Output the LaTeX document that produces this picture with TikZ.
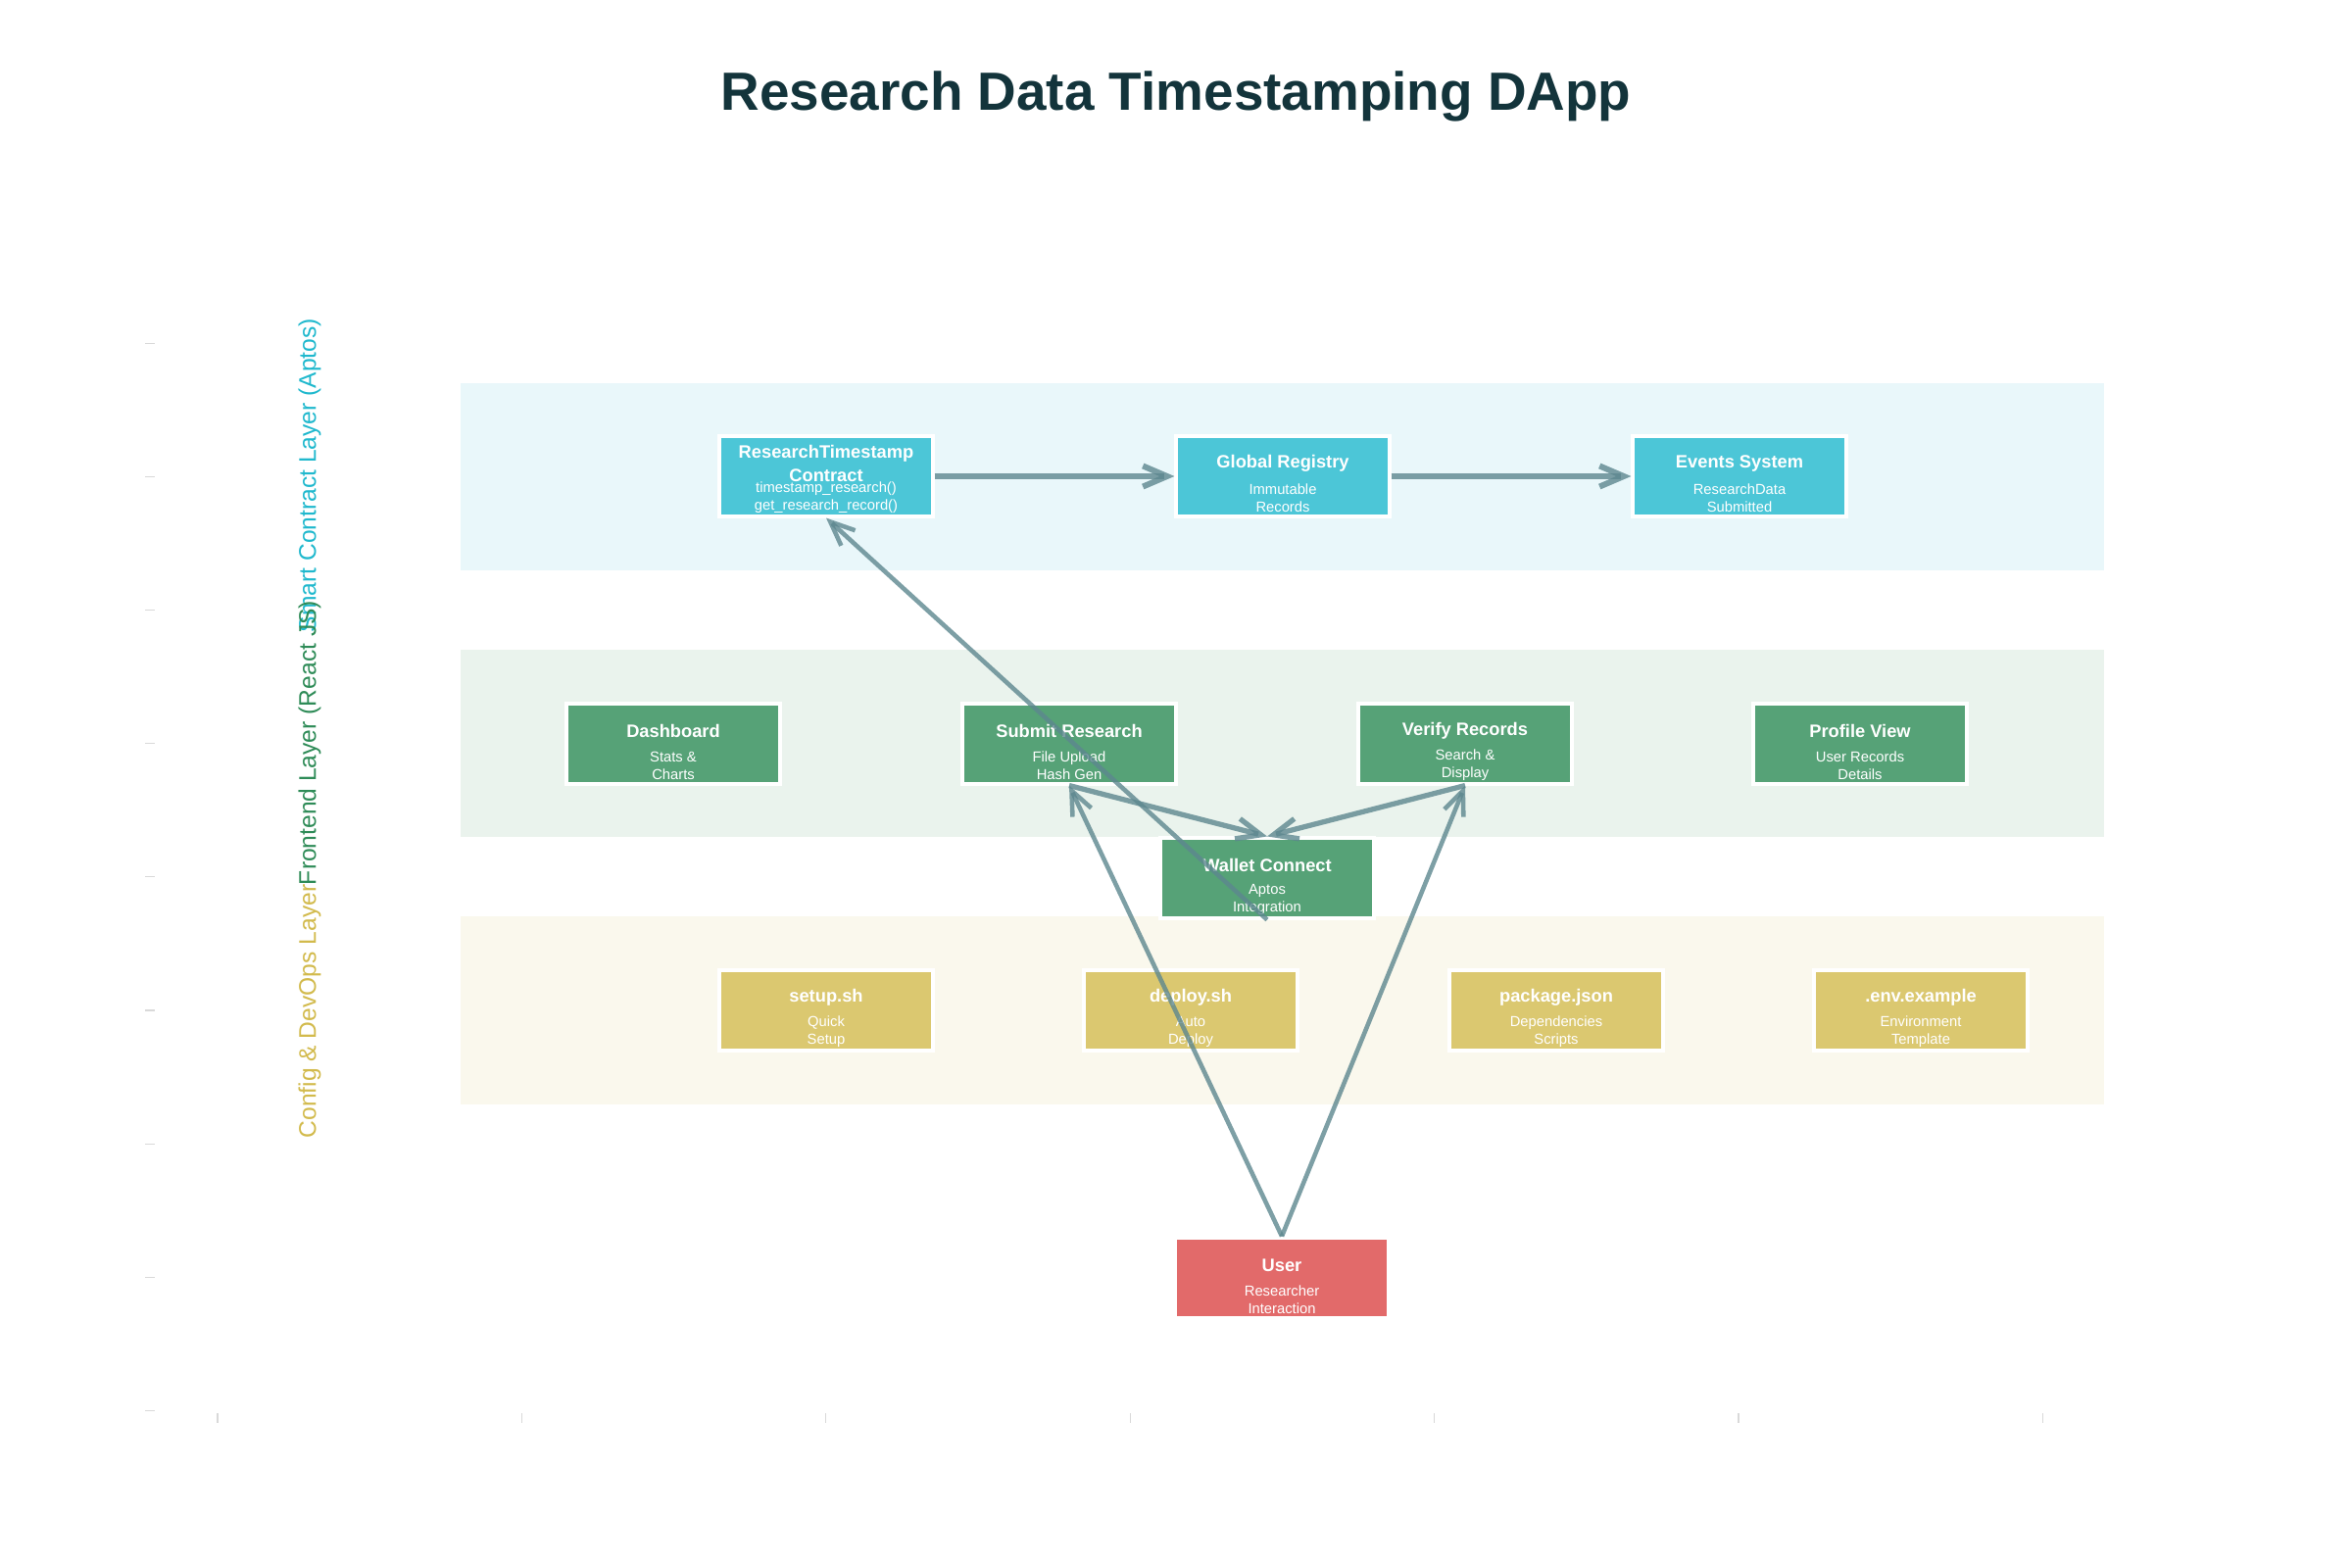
\documentclass[tikz,border=0pt]{standalone}
\usepackage{fontspec}
\setmainfont{Liberation Sans}
\usepackage{xcolor}
\usetikzlibrary{arrows.meta}

\definecolor{titlec}{RGB}{19,52,59}
\definecolor{scc}{RGB}{31,184,205}
\definecolor{fec}{RGB}{46,139,87}
\definecolor{cfc}{RGB}{210,186,76}
\definecolor{scfill}{RGB}{76,198,215}
\definecolor{fefill}{RGB}{86,162,119}
\definecolor{cffill}{RGB}{219,200,112}
\definecolor{usrfill}{RGB}{226,106,106}
\definecolor{scband}{RGB}{233,247,250}
\definecolor{feband}{RGB}{234,243,237}
\definecolor{cfband}{RGB}{250,248,237}
\definecolor{linkc}{RGB}{93,135,143}

\begin{document}
\begin{tikzpicture}[x=0.01cm,y=-0.01cm,
  blk/.style={rectangle,draw=white,line width=1pt,minimum width=2.175cm,minimum height=0.815cm,inner sep=0pt},
  ttl/.style={text=white,align=center,inner sep=0pt,font=\fontsize{5.2}{6.8}\selectfont\bfseries},
  sub/.style={text=white,align=center,inner sep=0pt,font=\fontsize{4.2}{5.1}\selectfont},
  lyr/.style={rotate=90,inner sep=0pt,font=\fontsize{7}{8}\selectfont},
  tickmark/.style={draw=black!15,line width=0.3pt},
  link/.style={draw=linkc,draw opacity=0.8,line width=1.3pt,-{Straight Barb[length=7pt,width=6pt]}}]
\useasboundingbox (0,0) rectangle (2400,1600);

% Title
\node[text=titlec,font=\fontsize{15.6}{18}\selectfont\bfseries] (title) at (1200,98) {Research Data Timestamping DApp};

% Layer bands
\fill[scband] (470,391) rectangle (2147,582);
\fill[feband] (470,663) rectangle (2147,854);
\fill[cfband] (470,935) rectangle (2147,1127);

% Axis ticks
\foreach \k in {0,...,8}
  \draw[tickmark] (148,{350.5+136.1*\k}) -- (158,{350.5+136.1*\k});
\foreach \k in {0,...,6}
  \draw[tickmark] ({222+310.4*\k},1442) -- ({222+310.4*\k},1452);

% Layer names
\node[lyr,text=scc] (sclabel) at (316,485) {Smart Contract Layer (Aptos)};
\node[lyr,text=fec] (felabel) at (316,758) {Frontend Layer (React JS)};
\node[lyr,text=cfc] (cflabel) at (316,1032) {Config \& DevOps Layer};

% Smart contract layer
\node[blk,fill=scfill] (contract) at (843,486) {};
\node[ttl] at ([yshift=0.13cm]contract.center) {ResearchTimestamp\\Contract};
\node[sub] at ([yshift=-0.22cm]contract.center) {timestamp\_research()\\get\_research\_record()};
\node[blk,fill=scfill] (registry) at (1309,486) {};
\node[ttl] at ([yshift=0.13cm]registry.center) {Global Registry};
\node[sub] at ([yshift=-0.22cm]registry.center) {Immutable\\Records};
\node[blk,fill=scfill] (events) at (1775,486) {};
\node[ttl] at ([yshift=0.13cm]events.center) {Events System};
\node[sub] at ([yshift=-0.22cm]events.center) {ResearchData\\Submitted};

% Frontend layer
\node[blk,fill=fefill] (dashboard) at (687,759) {};
\node[ttl] at ([yshift=0.13cm]dashboard.center) {Dashboard};
\node[sub] at ([yshift=-0.22cm]dashboard.center) {Stats \&\\Charts};
\node[blk,fill=fefill] (submit) at (1091,759) {};
\node[ttl] at ([yshift=0.13cm]submit.center) {Submit Research};
\node[sub] at ([yshift=-0.22cm]submit.center) {File Upload\\Hash Gen};
\node[blk,fill=fefill] (verify) at (1495,759) {};
\node[ttl] at ([yshift=0.13cm]verify.center) {Verify Records};
\node[sub] at ([yshift=-0.22cm]verify.center) {Search \&\\Display};
\node[blk,fill=fefill] (profile) at (1898,759) {};
\node[ttl] at ([yshift=0.13cm]profile.center) {Profile View};
\node[sub] at ([yshift=-0.22cm]profile.center) {User Records\\Details};
\node[blk,fill=fefill] (wallet) at (1293,896) {};
\node[ttl] at ([yshift=0.13cm]wallet.center) {Wallet Connect};
\node[sub] at ([yshift=-0.22cm]wallet.center) {Aptos\\Integration};

% Config layer
\node[blk,fill=cffill] (setup) at (843,1031) {};
\node[ttl] at ([yshift=0.13cm]setup.center) {setup.sh};
\node[sub] at ([yshift=-0.22cm]setup.center) {Quick\\Setup};
\node[blk,fill=cffill] (deploy) at (1215,1031) {};
\node[ttl] at ([yshift=0.13cm]deploy.center) {deploy.sh};
\node[sub] at ([yshift=-0.22cm]deploy.center) {Auto\\Deploy};
\node[blk,fill=cffill] (package) at (1588,1031) {};
\node[ttl] at ([yshift=0.13cm]package.center) {package.json};
\node[sub] at ([yshift=-0.22cm]package.center) {Dependencies\\Scripts};
\node[blk,fill=cffill] (envfile) at (1960,1031) {};
\node[ttl] at ([yshift=0.13cm]envfile.center) {.env.example};
\node[sub] at ([yshift=-0.22cm]envfile.center) {Environment\\Template};

% User
\node[blk,fill=usrfill] (user) at (1308,1304) {};
\node[ttl] at ([yshift=0.13cm]user.center) {User};
\node[sub] at ([yshift=-0.22cm]user.center) {Researcher\\Interaction};

% Connections
\draw[link,line width=1.7pt] (contract.east) -- (registry.west);
\draw[link,line width=1.7pt] (registry.east) -- (events.west);
\draw[link,line width=1.5pt] (submit.south) -- (wallet.north);
\draw[link,line width=1.5pt] (verify.south) -- (wallet.north);
\draw[link] (wallet.south) -- (contract.south);
\draw[link] (user.north) -- (submit.south);
\draw[link] (user.north) -- (verify.south);
\end{tikzpicture}
\end{document}
